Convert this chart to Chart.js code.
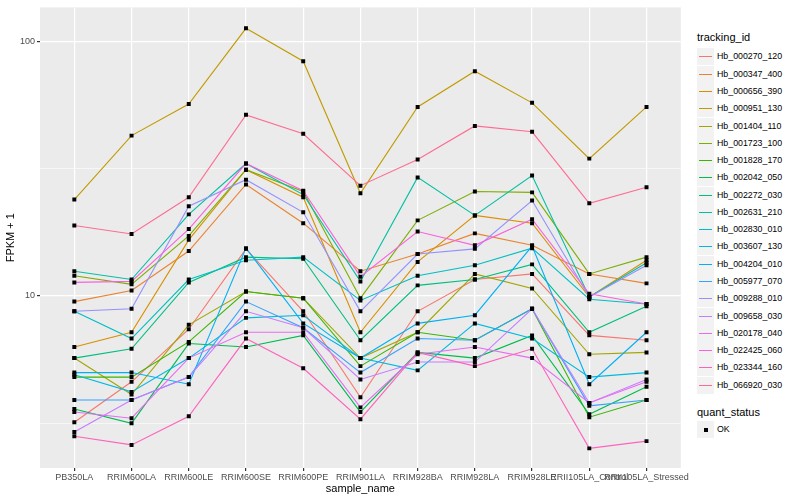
<!DOCTYPE html>
<html lang="en">
<head>
  <meta charset="UTF-8">
  <title>FPKM + 1 by sample</title>
  <script src="https://cdn.jsdelivr.net/npm/chart.js"></script>
  <style>
    body { margin: 0; background: #fff; font-family: "Liberation Sans", Arial, sans-serif; }
    #wrap { position: relative; width: 800px; height: 500px; }
    #fpkmChart { position: absolute; left: 0; top: 0; }
    .lg-title { position: absolute; left: 697px; font-size: 11px; line-height: 13px; color: #000; }
    .lg-key { position: absolute; left: 697px; width: 17px; height: 17px; background: #F2F2F2; }
    .lg-key i { position: absolute; left: 2px; top: 8px; width: 13px; height: 1px; }
    .lg-key b { position: absolute; left: 7px; top: 7px; width: 4px; height: 4px; background: #000; }
    .lg-text { position: absolute; left: 717px; font-size: 8.8px; line-height: 11px; color: #000; }
  </style>
</head>
<body>
<div id="wrap">
  <canvas id="fpkmChart" width="690" height="500"></canvas>
</div>

<script>
  // sample names along the x axis
  const samples = ['PB350LA', 'RRIM600LA', 'RRIM600LE', 'RRIM600SE', 'RRIM600PE', 'RRIM901LA',
    'RRIM928BA', 'RRIM928LA', 'RRIM928LE', 'RRII105LA_Control', 'RRII105LA_Stressed'];

  const trackingIds = ['Hb_000270_120', 'Hb_000347_400', 'Hb_000656_390', 'Hb_000951_130', 'Hb_001404_110',
    'Hb_001723_100', 'Hb_001828_170', 'Hb_002042_050', 'Hb_002272_030', 'Hb_002631_210',
    'Hb_002830_010', 'Hb_003607_130', 'Hb_004204_010', 'Hb_005977_070', 'Hb_009288_010',
    'Hb_009658_030', 'Hb_020178_040', 'Hb_022425_060', 'Hb_023344_160', 'Hb_066920_030'];

  // FPKM + 1 (one value per sample)
  const hb_000270_120 = [3.19, 4.6, 7.4, 15.3, 8.7, 4.0, 8.7, 11.6, 12.2, 7.0, 6.7];
  const hb_000347_400 = [9.5, 10.5, 15.0, 27.4, 19.3, 12.5, 14.6, 17.6, 15.8, 12.2, 11.2];
  const hb_000656_390 = [6.3, 7.2, 16.6, 31.3, 24.4, 7.2, 13.6, 20.7, 19.3, 9.9, 13.8];
  const hb_000951_130 = [23.9, 42.6, 56.7, 112.4, 83.5, 25.3, 55.2, 76.3, 57.3, 34.6, 55.2];
  const hb_001404_110 = [5.7, 4.1, 7.7, 10.4, 9.8, 5.7, 7.2, 12.2, 10.7, 5.9, 6.0];
  const hb_001723_100 = [12.0, 11.1, 17.2, 31.3, 25.7, 9.8, 19.8, 25.7, 25.5, 12.2, 14.2];
  const hb_001828_170 = [4.8, 4.8, 6.6, 10.4, 9.8, 5.3, 7.2, 6.7, 8.9, 3.34, 3.9];
  const hb_002042_050 = [3.6, 3.16, 6.5, 6.3, 7.0, 3.5, 6.0, 5.7, 7.0, 3.43, 4.4];
  const hb_002272_030 = [5.7, 6.2, 11.3, 14.2, 14.0, 6.7, 11.0, 11.6, 13.3, 7.2, 9.1];
  const hb_002631_210 = [12.5, 11.6, 20.9, 33.1, 25.0, 11.4, 29.2, 20.7, 29.7, 9.9, 13.5];
  const hb_002830_010 = [8.7, 6.8, 11.6, 13.8, 14.2, 9.6, 12.0, 13.2, 15.4, 9.7, 9.3];
  const hb_003607_130 = [4.9, 4.2, 5.7, 8.2, 8.4, 5.7, 5.1, 7.8, 6.8, 4.8, 5.0];
  const hb_004204_010 = [5.0, 5.0, 4.5, 15.4, 7.8, 5.7, 7.8, 8.4, 15.7, 4.5, 7.2];
  const hb_005977_070 = [3.9, 3.9, 4.8, 9.5, 7.5, 5.0, 6.8, 6.7, 8.9, 3.7, 3.9];
  const hb_009288_010 = [8.7, 8.9, 22.5, 28.6, 21.3, 8.7, 14.6, 15.3, 23.7, 9.9, 13.2];
  const hb_009658_030 = [2.92, 3.9, 4.8, 8.7, 7.5, 4.7, 5.5, 5.5, 8.9, 3.8, 4.7];
  const hb_020178_040 = [3.5, 3.31, 5.7, 7.2, 7.2, 3.65, 5.9, 6.3, 5.7, 3.8, 4.6];
  const hb_022425_060 = [11.3, 11.4, 18.3, 33.1, 25.9, 11.9, 17.9, 15.8, 20.0, 10.2, 9.3];
  const hb_023344_160 = [2.81, 2.6, 3.37, 6.8, 5.2, 3.28, 6.0, 5.3, 6.2, 2.52, 2.69];
  const hb_066920_030 = [18.9, 17.5, 24.4, 51.4, 43.3, 27.1, 34.3, 46.5, 44.1, 23.1, 26.7];

  const yTicks = [3.1623, 10, 31.623, 100];
  const yLabelled = [10, 100];

  const series = [hb_000270_120, hb_000347_400, hb_000656_390, hb_000951_130, hb_001404_110,
    hb_001723_100, hb_001828_170, hb_002042_050, hb_002272_030, hb_002631_210,
    hb_002830_010, hb_003607_130, hb_004204_010, hb_005977_070, hb_009288_010,
    hb_009658_030, hb_020178_040, hb_022425_060, hb_023344_160, hb_066920_030];

  // ggplot default hue palette for 20 levels
  const colours = ['#F8766D', '#EA8331', '#D89000', '#C09B00', '#A3A500', '#7CAE00', '#39B600',
    '#00BB4E', '#00BF7D', '#00C1A3', '#00BFC4', '#00BAE0', '#00B0F6', '#35A2FF', '#9590FF',
    '#C77CFF', '#E76BF3', '#FA62DB', '#FF62BC', '#FF6C91'];

  window.onload = function () {
    const ctx = document.getElementById('fpkmChart').getContext('2d');

    // all points in one black-square dataset, drawn on top (index 0 is drawn last)
    const allPoints = [];
    series.forEach(vals => vals.forEach((v, i) => allPoints.push({ x: i, y: v })));

    const datasets = [{
      label: 'OK',
      data: allPoints,
      showLine: false,
      pointStyle: 'rect',
      pointRadius: 2.8,
      pointBackgroundColor: '#000',
      pointBorderWidth: 0
    }];
    // later series on top, like ggplot
    for (let s = series.length - 1; s >= 0; s--) {
      datasets.push({
        label: trackingIds[s],
        data: series[s].map((v, i) => ({ x: i, y: v })),
        showLine: true,
        borderColor: colours[s],
        borderWidth: 1.1,
        pointRadius: 0
      });
    }

    const panelBg = {
      id: 'panelBg',
      beforeDraw(chart) {
        const a = chart.chartArea;
        chart.ctx.save();
        chart.ctx.fillStyle = '#EBEBEB';
        chart.ctx.fillRect(a.left, a.top, a.right - a.left, a.bottom - a.top);
        chart.ctx.restore();
      }
    };

    new Chart(ctx, {
      type: 'scatter',
      data: { datasets: datasets },
      plugins: [panelBg],
      options: {
        responsive: false,
        animation: false,
        layout: { padding: { top: 5, right: 3, left: 0, bottom: 0 } },
        plugins: { legend: { display: false }, tooltip: { enabled: false } },
        scales: {
          x: {
            type: 'linear',
            min: -0.6,
            max: 10.6,
            afterBuildTicks: scale => { scale.ticks = samples.map((s, i) => ({ value: i })); },
            afterFit: scale => { scale.height = 32; },
            ticks: {
              autoSkip: false,
              maxRotation: 0,
              padding: 1,
              color: '#4D4D4D',
              font: { family: 'Liberation Sans', size: 9 },
              callback: v => samples[v]
            },
            grid: { color: '#FFFFFF', lineWidth: 1.2, tickColor: '#333333', tickLength: 3 },
            border: { display: false },
            title: {
              display: true, text: 'sample_name', color: '#000',
              font: { family: 'Liberation Sans', size: 11 }, padding: { top: 0, bottom: 4 }
            }
          },
          y: {
            type: 'logarithmic',
            min: 2.11,
            max: 135.8,
            afterBuildTicks: scale => { scale.ticks = yTicks.map(v => ({ value: v })); },
            afterFit: scale => { scale.width = 40; },
            ticks: {
              padding: 2,
              color: '#4D4D4D',
              font: { family: 'Liberation Sans', size: 9 },
              callback: v => (yLabelled.includes(v) ? String(v) : '')
            },
            grid: {
              color: '#FFFFFF',
              lineWidth: c => (c.tick && yLabelled.includes(c.tick.value) ? 1.2 : 0.6),
              tickColor: c => (c.tick && yLabelled.includes(c.tick.value) ? '#333333' : 'rgba(0,0,0,0)'),
              tickLength: 3
            },
            border: { display: false },
            title: {
              display: true, text: 'FPKM + 1', color: '#000',
              font: { family: 'Liberation Sans', size: 11 }, padding: { top: 4, bottom: 0 }
            }
          }
        }
      }
    });

    // legend, built from the same names and colours
    const wrap = document.getElementById('wrap');
    function add(cls, top, html) {
      const el = document.createElement('div');
      el.className = cls;
      el.style.top = top + 'px';
      el.innerHTML = html;
      wrap.appendChild(el);
      return el;
    }
    add('lg-title', 31, 'tracking_id');
    trackingIds.forEach((id, i) => {
      const top = Math.round(48.4 + i * 17.28);
      const key = add('lg-key', top, '<i></i>');
      key.firstChild.style.background = colours[i];
      add('lg-text', top + 3, id);
    });
    add('lg-title', 406, 'quant_status');
    add('lg-key', 421, '<b></b>');
    add('lg-text', 424, 'OK');
  };
</script>
</body>
</html>
